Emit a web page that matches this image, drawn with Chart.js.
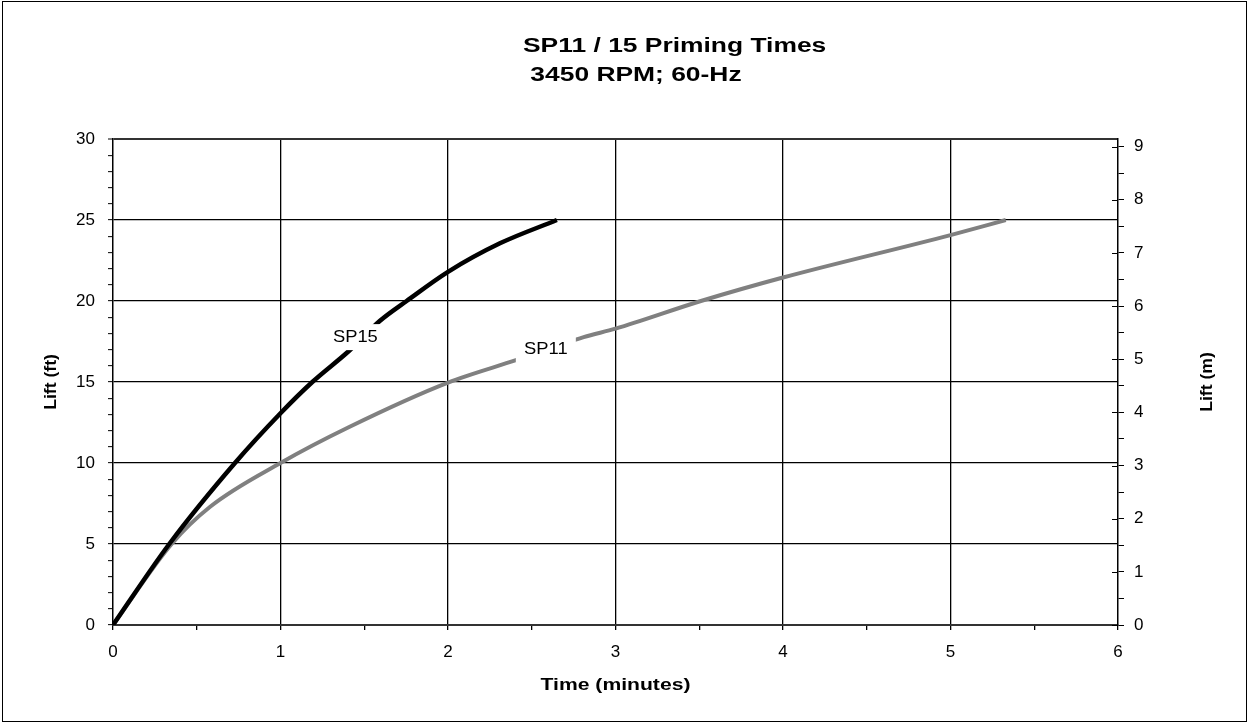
<!DOCTYPE html>
<html>
<head>
<meta charset="utf-8">
<script src="https://cdn.jsdelivr.net/npm/chart.js@4.4.0/dist/chart.umd.min.js"></script>
<style>
html, body { margin: 0; padding: 0; background: #fff; }
#wrap { position: relative; width: 1249px; height: 724px; }
#frame { position: absolute; left: 2px; top: 1px; width: 1243px; height: 719px; border: 1px solid #000; pointer-events: none; }
canvas { position: absolute; left: 0; top: 0; }
</style>
</head>
<body>
<div id="wrap">
    <canvas id="primeChart" width="1249" height="724"></canvas>
    <div id="frame"></div>
</div>
<script>
// values (time in minutes, lift in feet)
let sp15Time = [0, 0.336, 0.728, 1.0, 1.19, 1.41, 1.594, 1.753, 2.0, 2.31, 2.65];
let sp15Lift = [0, 5, 10, 13.07, 15, 16.93, 18.78, 20, 21.8, 23.56, 25];
let sp11Time = [0, 0.35, 0.58, 1.0, 1.41, 2.0, 2.41, 2.81, 3.0, 3.51, 4.0, 5.0, 5.33];
let sp11Lift = [0, 5, 7.3, 10, 12.22, 14.96, 16.36, 17.77, 18.29, 20, 21.45, 24.07, 25];

// in-line curve labels
let curveNames = ["SP15", "SP11"];
let nameTime = [1.447, 2.584];
let nameLift = [17.77, 17.0];

let titleLines = ["SP11 / 15 Priming Times", " 3450 RPM; 60-Hz"];
let axisTitles = {x: "Time (minutes)", ft: "Lift (ft)", m: "Lift (m)"};
const FT_TO_M = 0.3048;
const FONT = '"Liberation Sans", Arial, Helvetica, sans-serif';

function pts(xs, ys) {
    return xs.map((x, i) => ({x: x, y: ys[i]}));
}

// text in the original is drawn a bit wide, so stretch along the reading direction
function wideText(ctx, text, x, y, rot, stretch, align) {
    ctx.save();
    ctx.translate(x, y);
    ctx.rotate(rot);
    ctx.scale(stretch, 1);
    ctx.textAlign = align;
    ctx.fillText(text, 0, 0);
    ctx.restore();
}

const decor = {
    id: "decor",
    afterDatasetsDraw(chart) {
        const ctx = chart.ctx;
        const xs = chart.scales.x, ys = chart.scales.y;
        ctx.save();
        ctx.font = "17px " + FONT;
        ctx.textAlign = "center";
        ctx.textBaseline = "middle";
        curveNames.forEach((n, i) => {
            const px = xs.getPixelForValue(nameTime[i]);
            const py = ys.getPixelForValue(nameLift[i]);
            ctx.fillStyle = "#fff";
            ctx.fillRect(px - 30, py - 13, 60, 26);
            ctx.fillStyle = "#000";
            wideText(ctx, n, px, py, 0, 1.08, "center");
        });
        ctx.restore();
    },
    afterDraw(chart) {
        const ctx = chart.ctx;
        const ym = chart.scales.ym;
        const area = chart.chartArea;
        const midY = (area.top + area.bottom) / 2;
        ctx.save();
        // major ticks on the metre axis cross into the plot
        ctx.strokeStyle = "#000";
        ctx.lineWidth = 1;
        for (let m = 0; m <= 9; m++) {
            const py = Math.round(ym.getPixelForValue(m)) + 0.5;
            ctx.beginPath();
            ctx.moveTo(area.right - 6, py);
            ctx.lineTo(area.right, py);
            ctx.stroke();
        }
        ctx.fillStyle = "#000";
        // title
        ctx.font = "bold 20px " + FONT;
        ctx.textBaseline = "alphabetic";
        wideText(ctx, titleLines[0], 523, 52, 0, 1.32, "left");
        wideText(ctx, titleLines[1], 523, 81, 0, 1.32, "left");
        // axis titles
        ctx.font = "bold 16px " + FONT;
        ctx.textBaseline = "middle";
        wideText(ctx, axisTitles.x, (area.left + area.right) / 2, 686, 0, 1.32, "center");
        wideText(ctx, axisTitles.ft, 52, midY, -Math.PI / 2, 1.1, "center");
        wideText(ctx, axisTitles.m, 1208, midY, -Math.PI / 2, 1.1, "center");
        ctx.restore();
    }
};

new Chart(document.getElementById("primeChart"), {
    type: "line",
    data: {
        datasets: [
            {
                label: "SP15",
                data: pts(sp15Time, sp15Lift),
                borderColor: "#000",
                borderWidth: 4.5,
                pointRadius: 0,
                cubicInterpolationMode: "monotone",
                fill: false
            },
            {
                label: "SP11",
                data: pts(sp11Time, sp11Lift),
                borderColor: "#808080",
                borderWidth: 4,
                pointRadius: 0,
                cubicInterpolationMode: "monotone",
                fill: false
            }
        ]
    },
    options: {
        responsive: false,
        animation: false,
        events: [],
        layout: {padding: {left: 39, right: 0, top: 139, bottom: 36}},
        plugins: {legend: {display: false}, title: {display: false}, tooltip: {enabled: false}},
        scales: {
            x: {
                type: "linear",
                min: 0,
                max: 6,
                afterFit: (s) => { s.height = 63; },
                ticks: {
                    stepSize: 0.5,
                    autoSkip: false,
                    maxRotation: 0,
                    padding: 12,
                    color: "#000",
                    font: {family: FONT, size: 17},
                    callback: (v) => Number.isInteger(v) ? v : ""
                },
                grid: {
                    color: (c) => (c.tick && Number.isInteger(c.tick.value) && c.tick.value > 0 && c.tick.value < 6) ? "#000" : "rgba(0,0,0,0)",
                    tickColor: "#000",
                    tickLength: 5,
                    lineWidth: 1.3
                },
                border: {color: "#333", width: 2}
            },
            y: {
                type: "linear",
                position: "left",
                min: 0,
                max: 30,
                afterFit: (s) => { s.width = 74; },
                ticks: {
                    stepSize: 1,
                    autoSkip: false,
                    padding: 13,
                    color: "#000",
                    font: {family: FONT, size: 17},
                    callback: (v) => v % 5 === 0 ? v : ""
                },
                grid: {
                    color: (c) => {
                        if (!c.tick) return "rgba(0,0,0,0)";
                        const v = c.tick.value;
                        if (v === 30) return "#333";
                        return (v % 5 === 0 && v > 0) ? "#000" : "rgba(0,0,0,0)";
                    },
                    lineWidth: (c) => (c.tick && c.tick.value === 30) ? 2 : 1.3,
                    tickColor: "#000",
                    tickWidth: 1,
                    tickLength: 5
                },
                border: {color: "#000", width: 1.5}
            },
            ym: {
                type: "linear",
                position: "right",
                min: 0,
                max: 30 * FT_TO_M,
                afterFit: (s) => { s.width = 131; },
                ticks: {
                    stepSize: 0.5,
                    includeBounds: false,
                    autoSkip: false,
                    padding: 10,
                    color: "#000",
                    font: {family: FONT, size: 17},
                    callback: (v) => Number.isInteger(v) ? v : ""
                },
                grid: {
                    drawOnChartArea: false,
                    color: "#000",
                    tickLength: 6,
                    lineWidth: 1
                },
                border: {color: "#000", width: 1.5}
            }
        }
    },
    plugins: [decor]
});
</script>
</body>
</html>
